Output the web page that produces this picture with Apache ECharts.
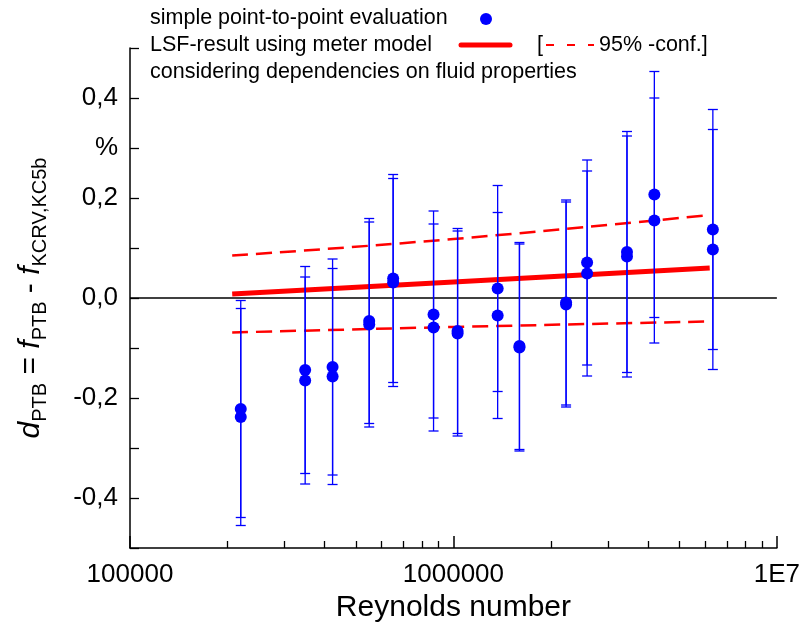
<!DOCTYPE html>
<html>
<head>
<meta charset="UTF-8" />
<title>PTB deviation vs Reynolds number</title>
<script src="https://cdn.jsdelivr.net/npm/echarts@6/dist/echarts.min.js"></script>
<style>
    html, body { margin: 0; padding: 0; background: #ffffff; }
    #chart { width: 803px; height: 636px; }
</style>
</head>
<body>
<div id="chart"></div>
<script type="text/javascript">
// Reynolds numbers of the measuring points (two evaluations per point)
var reynolds = [2.2e5, 3.48e5, 4.23e5, 5.49e5, 6.51e5, 8.68e5, 1.03e6, 1.37e6, 1.6e6, 2.23e6, 2.59e6, 3.44e6, 4.18e6, 6.34e6];
var devA = [-0.222, -0.144, -0.138, -0.046, 0.039, -0.033, -0.066, 0.019, -0.096, -0.009, 0.071, 0.092, 0.207, 0.137];
var devB = [-0.238, -0.165, -0.157, -0.053, 0.031, -0.059, -0.071, -0.035, -0.099, -0.013, 0.049, 0.083, 0.155, 0.097];
var uncA = [0.217, 0.207, 0.216, 0.205, 0.208, 0.207, 0.205, 0.206, 0.207, 0.205, 0.205, 0.241, 0.246, 0.240];
var uncB = [0.217, 0.207, 0.216, 0.205, 0.208, 0.207, 0.205, 0.206, 0.207, 0.205, 0.205, 0.241, 0.245, 0.240];

// LSF result and 95 % confidence band
var fitRe = [2.07e5, 1.0e6, 6.2e6];
var fitMid = [0.008, 0.032, 0.060];
var fitUp = [0.085, 0.118, 0.166];
var fitLow = [-0.069, -0.058, -0.047];

var xMajorTicks = [1e5, 1e6, 1e7];
var xTickText = ['100000', '1000000', '1E7'];
var xMinorTicks = [2e5, 3e5, 4e5, 5e5, 6e5, 7e5, 8e5, 9e5, 2e6, 3e6, 4e6, 5e6, 6e6, 7e6, 8e6, 9e6];
var yTickValues = [-0.4, -0.2, 0.0, 0.2, 0.3, 0.4];
var yTickText = ['-0,4', '-0,2', '0,0', '0,2', '%', '0,4'];

var BLUE = '#0000ff';
var RED = '#ff0000';
var FONT = 'Liberation Sans, Arial, sans-serif';

var points = [], bars = [];
for (var i = 0; i < reynolds.length; i++) {
    points.push([reynolds[i], devA[i]]);
    points.push([reynolds[i], devB[i]]);
    bars.push([reynolds[i], devA[i], uncA[i]]);
    bars.push([reynolds[i], devB[i], uncB[i]]);
}
function pairs(xs, ys) {
    var out = [];
    for (var k = 0; k < xs.length; k++) out.push([xs[k], ys[k]]);
    return out;
}

function renderErrorBar(params, api) {
    var x = api.value(0), y = api.value(1), u = api.value(2);
    var top = api.coord([x, y + u]);
    var bot = api.coord([x, y - u]);
    var w = 5;
    var st = { stroke: BLUE, lineWidth: 1.3 };
    return {
        type: 'group',
        children: [
            { type: 'line', shape: { x1: top[0], y1: top[1], x2: bot[0], y2: bot[1] }, style: st },
            { type: 'line', shape: { x1: top[0] - w, y1: top[1], x2: top[0] + w, y2: top[1] }, style: st },
            { type: 'line', shape: { x1: bot[0] - w, y1: bot[1], x2: bot[0] + w, y2: bot[1] }, style: st }
        ]
    };
}

var myChart = echarts.init(document.getElementById('chart'));
var option = {
    backgroundColor: '#ffffff',
    animation: false,
    textStyle: { fontFamily: FONT },
    grid: { left: 130, right: 23, top: 48, bottom: 88 },
    xAxis: [
        {
            type: 'log',
            logBase: 10,
            min: 1e5,
            max: 1e7,
            name: 'Reynolds number',
            nameLocation: 'middle',
            nameGap: 42,
            nameTextStyle: { fontSize: 30, color: '#000', fontFamily: FONT },
            axisLine: { onZero: false, lineStyle: { color: '#000', width: 1.5 } },
            axisTick: { inside: true, length: 12, customValues: xMajorTicks, lineStyle: { color: '#000', width: 1.5 } },
            axisLabel: {
                fontSize: 26, color: '#000', margin: 14, fontFamily: FONT,
                customValues: xMajorTicks,
                formatter: function (v) {
                    var k = xMajorTicks.indexOf(v);
                    return k >= 0 ? xTickText[k] : '';
                }
            },
            splitLine: { show: false }
        },
        {
            type: 'log',
            logBase: 10,
            min: 1e5,
            max: 1e7,
            position: 'bottom',
            axisLine: { show: false, onZero: false },
            axisTick: { inside: true, length: 7, customValues: xMinorTicks, lineStyle: { color: '#000', width: 1.3 } },
            axisLabel: { show: false },
            splitLine: { show: false }
        }
    ],
    yAxis: {
        type: 'value',
        min: -0.5,
        max: 0.5,
        interval: 0.1,
        name: '{i|d}{s|PTB}{n| = }{i|f}{s|PTB}{n| - }{i|f}{s|KCRV,KC5b}',
        nameLocation: 'middle',
        nameRotate: 90,
        nameGap: 80,
        nameTextStyle: {
            color: '#000',
            rich: {
                i: { fontSize: 30, fontStyle: 'italic', fontFamily: FONT, color: '#000' },
                n: { fontSize: 30, fontFamily: FONT, color: '#000' },
                s: { fontSize: 20, fontFamily: FONT, color: '#000', padding: [18, 0, 0, 0] }
            }
        },
        axisLine: { show: true, onZero: false, lineStyle: { color: '#000', width: 1.5 } },
        axisTick: { inside: true, length: 9, lineStyle: { color: '#000', width: 1.3 } },
        axisLabel: {
            fontSize: 26, color: '#000', margin: 12, fontFamily: FONT,
            formatter: function (v) {
                for (var k = 0; k < yTickValues.length; k++) {
                    if (Math.abs(yTickValues[k] - v) < 1e-6) return yTickText[k];
                }
                return '';
            }
        },
        splitLine: { show: false }
    },
    graphic: [
        { type: 'text', left: 150, top: 7, style: { text: 'simple point-to-point evaluation', fontSize: 21.5, fontFamily: FONT, fill: '#000' } },
        { type: 'circle', shape: { cx: 486, cy: 19, r: 6 }, style: { fill: BLUE } },
        { type: 'text', left: 150, top: 34, style: { text: 'LSF-result using meter model', fontSize: 21.5, fontFamily: FONT, fill: '#000' } },
        { type: 'line', shape: { x1: 461, y1: 45, x2: 510, y2: 45 }, style: { stroke: RED, lineWidth: 5, lineCap: 'round' } },
        { type: 'text', left: 537, top: 34, style: { text: '[', fontSize: 21.5, fontFamily: FONT, fill: '#000' } },
        { type: 'line', shape: { x1: 546, y1: 45, x2: 594, y2: 45 }, style: { stroke: RED, lineWidth: 2, lineDash: [8, 13] } },
        { type: 'text', left: 599, top: 34, style: { text: '95% -conf.]', fontSize: 21.5, fontFamily: FONT, fill: '#000' } },
        { type: 'text', left: 150, top: 61, style: { text: 'considering dependencies on fluid properties', fontSize: 21.5, fontFamily: FONT, fill: '#000' } }
    ],
    series: [
        {
            type: 'line',
            name: 'upper',
            data: pairs(fitRe, fitUp),
            showSymbol: false,
            smooth: true,
            lineStyle: { color: RED, width: 2.5, type: [16, 8] },
            z: 3
        },
        {
            type: 'line',
            name: 'lower',
            data: pairs(fitRe, fitLow),
            showSymbol: false,
            smooth: true,
            lineStyle: { color: RED, width: 2.5, type: [16, 8] },
            z: 3
        },
        {
            type: 'line',
            name: 'LSF',
            data: pairs(fitRe, fitMid),
            showSymbol: false,
            lineStyle: { color: RED, width: 5 },
            z: 4,
            markLine: {
                silent: true,
                symbol: 'none',
                label: { show: false },
                lineStyle: { color: '#000', width: 1.5, type: 'solid' },
                data: [{ yAxis: 0 }]
            }
        },
        {
            type: 'custom',
            name: 'uncertainty',
            renderItem: renderErrorBar,
            data: bars,
            z: 5
        },
        {
            type: 'scatter',
            name: 'simple point-to-point evaluation',
            data: points,
            symbolSize: 12,
            itemStyle: { color: BLUE, opacity: 1 },
            z: 6
        }
    ]
};
myChart.setOption(option);
</script>
</body>
</html>
